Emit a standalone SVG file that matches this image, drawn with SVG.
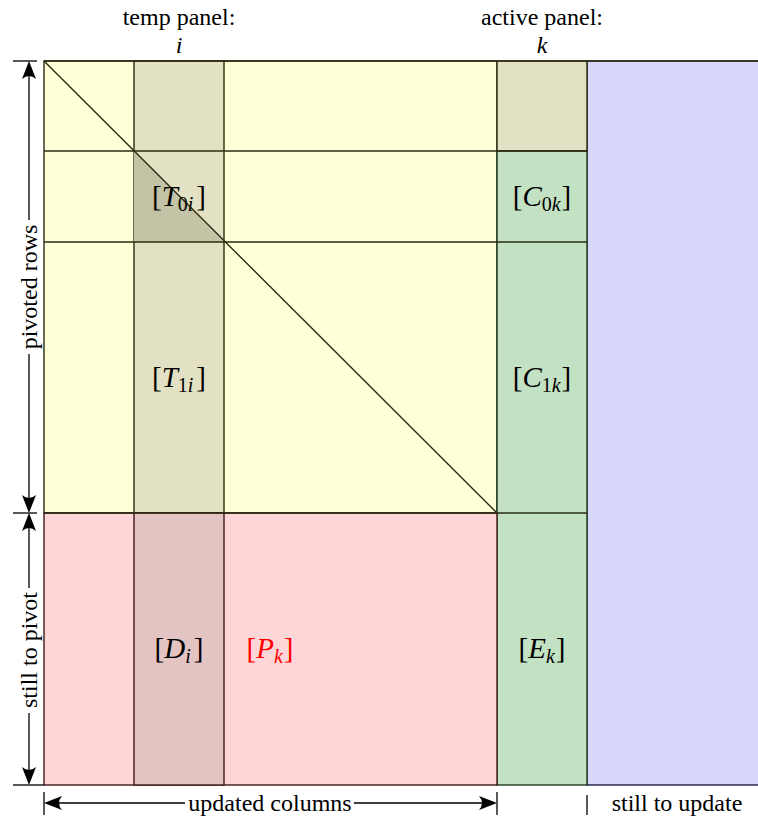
<svg xmlns="http://www.w3.org/2000/svg" width="758" height="819" viewBox="0 0 758 819">
<style>
.t{font-family:"Liberation Serif","Times New Roman","DejaVu Serif",serif;font-size:24px;fill:#000}
.m{font-family:"Liberation Serif","Times New Roman","DejaVu Serif",serif;font-size:29px;fill:#000}
.s{font-size:20px}
.mi{font-style:italic}
.ln{stroke:#000;stroke-width:1.3;fill:none}
.g{stroke:#2b2b12;stroke-width:1.4}
.gp{stroke:#3f1a1a;stroke-width:1.4}
.gg{stroke:#1f3a1f;stroke-width:1.4}
.ah{fill:#000}
</style>
<rect width="758" height="819" fill="#fff"/>
<g id="still-to-update-region">
<rect x="587" y="61" width="175" height="724" fill="#d8d8fa" stroke="#1f1f4a" stroke-width="1.4"/>
</g>
<g id="pivoted-block">
<rect x="44" y="61" width="453" height="452" fill="#ffffd8" class="g"/>
</g>
<g id="temp-panel">
<rect x="134" y="61" width="90" height="452" fill="#e3e1c3" class="g"/>
<polygon points="134,151 134,242 224,242" fill="#c4c3a5"/>
</g>
<g id="active-top">
<rect x="497" y="61" width="90" height="90" fill="#e3e1c3" class="g"/>
</g>
<g id="active-panel">
<rect x="497" y="151" width="90" height="634" fill="#c3e2c3" class="gg"/>
</g>
<g id="still-to-pivot-block">
<rect x="44" y="513" width="453" height="272" fill="#ffd6d8" class="gp"/>
<rect x="134" y="513" width="90" height="272" fill="#e4c3c3" class="gp"/>
</g>
<g id="grid-lines">
<line x1="44" y1="151" x2="587" y2="151" class="g"/>
<line x1="44" y1="242" x2="587" y2="242" class="g"/>
<line x1="44" y1="513" x2="587" y2="513" class="g"/>
<line x1="44" y1="61" x2="758" y2="61" class="g"/>
<line x1="44" y1="61" x2="497" y2="513" class="g"/>
</g>
<g id="labels">
<text class="m" x="179" y="206" text-anchor="middle">[<tspan class="mi">T</tspan><tspan class="s" dy="5">0<tspan class="mi">i</tspan></tspan><tspan dy="-5" dx="3">]</tspan></text>
<text class="m" x="542" y="206" text-anchor="middle">[<tspan class="mi">C</tspan><tspan class="s" dy="5">0<tspan class="mi">k</tspan></tspan><tspan dy="-5" dx="1">]</tspan></text>
<text class="m" x="179" y="387" text-anchor="middle">[<tspan class="mi">T</tspan><tspan class="s" dy="5">1<tspan class="mi">i</tspan></tspan><tspan dy="-5" dx="3">]</tspan></text>
<text class="m" x="542" y="387" text-anchor="middle">[<tspan class="mi">C</tspan><tspan class="s" dy="5">1<tspan class="mi">k</tspan></tspan><tspan dy="-5" dx="1">]</tspan></text>
<text class="m" x="179" y="658" text-anchor="middle">[<tspan class="mi">D</tspan><tspan class="s mi" dy="5">i</tspan><tspan dy="-5" dx="3">]</tspan></text>
<text class="m" x="270" y="658" text-anchor="middle" style="fill:#ff0000">[<tspan class="mi">P</tspan><tspan class="s mi" dy="5">k</tspan><tspan dy="-5" dx="1">]</tspan></text>
<text class="m" x="542" y="658" text-anchor="middle">[<tspan class="mi">E</tspan><tspan class="s mi" dy="5">k</tspan><tspan dy="-5" dx="1">]</tspan></text>
<text class="t" x="179" y="25" text-anchor="middle">temp panel:</text>
<text class="t mi" x="179" y="53" text-anchor="middle">i</text>
<text class="t" x="542" y="25" text-anchor="middle">active panel:</text>
<text class="t mi" x="542" y="53" text-anchor="middle">k</text>
<text class="t" x="270" y="811" text-anchor="middle">updated columns</text>
<text class="t" x="677" y="811" text-anchor="middle">still to update</text>
<text class="t" transform="translate(37,287) rotate(-90)" text-anchor="middle">pivoted rows</text>
<text class="t" transform="translate(37,650) rotate(-90)" text-anchor="middle">still to pivot</text>
</g>
<g id="connectors">
<line x1="13" y1="61" x2="37" y2="61" class="ln"/>
<line x1="13" y1="513" x2="37" y2="513" class="ln"/>
<line x1="13" y1="785" x2="44" y2="785" class="ln"/>
<line x1="29" y1="70" x2="29" y2="220" class="ln"/>
<line x1="29" y1="354" x2="29" y2="504" class="ln"/>
<line x1="29" y1="522" x2="29" y2="588" class="ln"/>
<line x1="29" y1="713" x2="29" y2="776" class="ln"/>
<path class="ah" d="M29,61 L36,79 Q29,73 22,79 Z"/>
<path class="ah" d="M29,513 L36,495 Q29,501 22,495 Z"/>
<path class="ah" d="M29,513 L36,531 Q29,525 22,531 Z"/>
<path class="ah" d="M29,785 L36,767 Q29,773 22,767 Z"/>
<line x1="44" y1="792" x2="44" y2="815" class="ln"/>
<line x1="497" y1="792" x2="497" y2="815" class="ln"/>
<line x1="587" y1="795" x2="587" y2="815" class="ln"/>
<line x1="53" y1="803" x2="185" y2="803" class="ln"/>
<line x1="354" y1="803" x2="488" y2="803" class="ln"/>
<path class="ah" d="M44,803 L62,796 Q56,803 62,810 Z"/>
<path class="ah" d="M497,803 L479,796 Q485,803 479,810 Z"/>
</g>
</svg>
